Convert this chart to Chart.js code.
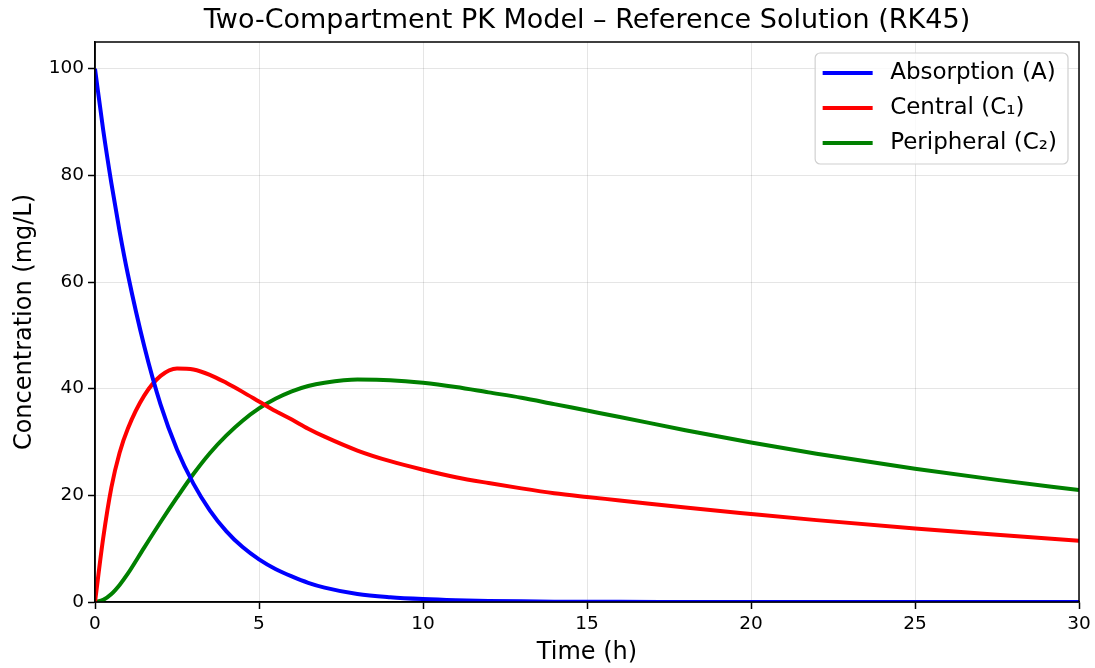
<!DOCTYPE html>
<html>
<head>
<meta charset="utf-8">
<script src="https://cdn.jsdelivr.net/npm/chart.js@4"></script>
<style>
  html, body { margin: 0; padding: 0; background: #fff; }
  #wrap { width: 1095px; height: 668px; }
</style>
</head>
<body>
<div id="wrap"><canvas id="pkChart" width="1095" height="668"></canvas></div>
<script>
// values (time in hours, concentration in mg/L)
const timeH = [0, 0.25, 0.5, 0.75, 1, 1.5, 2, 2.5, 3, 3.5, 4, 4.5, 5, 5.5, 6, 6.5, 7, 8, 9, 10, 11, 12, 13, 14, 15, 16, 18, 20, 22, 25, 27.5, 30];
const absorption = [100, 88.5, 78.5, 69.5, 61.5, 48, 37, 28.6, 22.2, 17.2, 13.3, 10.3, 8.0, 6.2, 4.8, 3.6, 2.7, 1.5, 0.9, 0.55, 0.33, 0.2, 0.12, 0.07, 0.05, 0.03, 0.01, 0, 0, 0, 0, 0];
const central = [0, 12, 21.5, 28, 32.5, 38.7, 42.4, 43.8, 43.6, 42.6, 41.1, 39.4, 37.6, 35.8, 34.2, 32.5, 31.0, 28.4, 26.4, 24.8, 23.4, 22.3, 21.3, 20.4, 19.7, 19.05, 17.7, 16.5, 15.35, 13.8, 12.6, 11.5];
const peripheral = [0, 0.4, 1.5, 3.2, 5.3, 10.2, 15.0, 19.6, 24.0, 27.9, 31.2, 34.0, 36.3, 38.1, 39.5, 40.5, 41.1, 41.7, 41.6, 41.1, 40.3, 39.3, 38.3, 37.1, 35.9, 34.7, 32.2, 29.9, 27.8, 25.0, 22.9, 21.0];
const xTicks = [0, 5, 10, 15, 20, 25, 30];
const yTicks = [0, 20, 40, 60, 80, 100];
const chartTitle = "Two-Compartment PK Model \u2013 Reference Solution (RK45)";

const FONT = "'DejaVu Sans', sans-serif";
Chart.defaults.font.family = FONT;
Chart.defaults.color = "#000";

const toPoints = (ys) => timeH.map((t, i) => ({ x: t, y: ys[i] }));

// title centred over the plot area, like matplotlib does
const plotTitle = {
  id: "plotTitle",
  afterDraw(chart) {
    const { ctx, chartArea: a } = chart;
    ctx.save();
    ctx.font = `27px ${FONT}`;
    ctx.fillStyle = "#000";
    ctx.textAlign = "center";
    ctx.textBaseline = "middle";
    ctx.fillText(chartTitle, (a.left + a.right) / 2, 21);
    ctx.restore();
  },
};

// matplotlib-style legend inside the plot, top right
const boxLegend = {
  id: "boxLegend",
  afterDraw(chart) {
    const { ctx, chartArea } = chart;
    const sets = chart.data.datasets;
    ctx.save();
    ctx.font = `23px ${FONT}`;
    const textW = Math.max(...sets.map((d) => ctx.measureText(d.label).width));
    const rowH = 35;
    const w = 7.5 + 50 + 17.5 + textW + 11;
    const h = sets.length * rowH + 6;
    const x = chartArea.right - 11 - w;
    const y = chartArea.top + 11;
    ctx.beginPath();
    ctx.roundRect(x, y, w, h, 5);
    ctx.fillStyle = "rgba(255,255,255,0.8)";
    ctx.fill();
    ctx.strokeStyle = "#d0d0d0";
    ctx.lineWidth = 1.2;
    ctx.stroke();
    sets.forEach((d, i) => {
      const cy = y + 20 + i * rowH;
      ctx.beginPath();
      ctx.moveTo(x + 7.5, cy);
      ctx.lineTo(x + 57.5, cy);
      ctx.strokeStyle = d.borderColor;
      ctx.lineWidth = 4;
      ctx.stroke();
      ctx.fillStyle = "#000";
      ctx.textBaseline = "middle";
      ctx.fillText(d.label, x + 75, cy);
    });
    ctx.restore();
  },
};

// full black frame round the plot area
const frame = {
  id: "frame",
  afterDatasetsDraw(chart) {
    const { ctx, chartArea: a } = chart;
    ctx.save();
    ctx.strokeStyle = "#000";
    ctx.lineWidth = 1.5;
    ctx.strokeRect(a.left, a.top, a.right - a.left, a.bottom - a.top);
    ctx.restore();
  },
};

const line = (label, ys, color) => ({
  label,
  data: toPoints(ys),
  borderColor: color,
  backgroundColor: color,
  borderWidth: 4,
  pointRadius: 0,
  cubicInterpolationMode: "monotone",
  fill: false,
});

new Chart(document.getElementById("pkChart"), {
  type: "line",
  data: {
    datasets: [
      line("Absorption (A)", absorption, "#0000ff"),
      line("Central (C\u2081)", central, "#ff0000"),
      line("Peripheral (C\u2082)", peripheral, "#008000"),
    ],
  },
  options: {
    responsive: false,
    animation: false,
    layout: { padding: { left: 0, right: 16, top: 42, bottom: 0 } },
    plugins: {
      legend: { display: false },
      tooltip: { enabled: false },
      title: { display: false },
    },
    scales: {
      x: {
        type: "linear",
        min: 0,
        max: 30,
        afterBuildTicks: (s) => { s.ticks = xTicks.map((v) => ({ value: v })); },
        afterFit: (s) => { s.height = 66; },
        ticks: { font: { size: 18.5 }, padding: 4, maxRotation: 0 },
        grid: { color: "rgba(0,0,0,0.1)", lineWidth: 1, tickColor: "#000", tickLength: 7, tickWidth: 1.5 },
        border: { color: "#000", width: 1.5 },
        title: { display: true, text: "Time (h)", font: { size: 24 }, padding: { top: 0, bottom: 1 } },
      },
      y: {
        min: 0,
        max: 105,
        afterBuildTicks: (s) => { s.ticks = yTicks.map((v) => ({ value: v })); },
        afterFit: (s) => { s.width = 95; },
        ticks: { font: { size: 18.5 }, padding: 4 },
        grid: { color: "rgba(0,0,0,0.1)", lineWidth: 1, tickColor: "#000", tickLength: 7, tickWidth: 1.5 },
        border: { color: "#000", width: 1.5 },
        title: { display: true, text: "Concentration (mg/L)", font: { size: 24 }, padding: { top: 10, bottom: 0 } },
      },
    },
  },
  plugins: [frame, plotTitle, boxLegend],
});
</script>
</body>
</html>
